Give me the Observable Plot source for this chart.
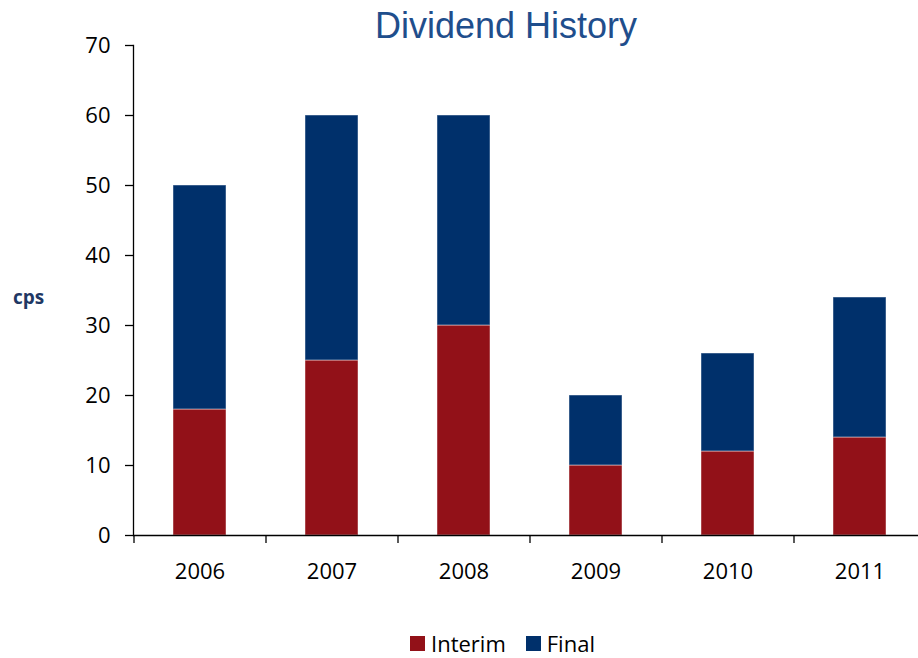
<!DOCTYPE html>
<html>
<head>
<meta charset="utf-8">
<script src="https://cdn.jsdelivr.net/npm/d3@7"></script>
<script src="https://cdn.jsdelivr.net/npm/@observablehq/plot@0.6"></script>
<style>
  html, body { margin: 0; padding: 0; background: #fff; }
  #wrap { position: relative; width: 918px; height: 658px; overflow: hidden; font-family: "Open Sans", sans-serif; }
  #title { position: absolute; top: 5px; left: 0; width: 1012px; text-align: center; font-family: "Liberation Sans", Arial, sans-serif; font-size: 36px; color: #1F4E8C; }
  #cps { position: absolute; left: 13px; top: 284px; font-family: "Open Sans", sans-serif; font-weight: bold; font-size: 19px; color: #1F3864; }
  #chart { position: absolute; left: 0; top: 0; }
  #legend { position: absolute; top: 628px; left: 410px; display: flex; align-items: center; font-size: 22px; color: #000; white-space: nowrap; }
  .sw { display: inline-block; width: 15px; height: 15px; margin-right: 6px; }
</style>
</head>
<body>
<div id="wrap">
  <div id="chart"></div>
  <div id="title">Dividend History</div>
  <div id="cps">cps</div>
  <div id="legend"></div>
</div>
<script>
const years = ["2006", "2007", "2008", "2009", "2010", "2011"];
const interim = [18, 25, 30, 10, 12, 14];
const final = [32, 35, 30, 10, 14, 20];
const seriesNames = ["Interim", "Final"];
const seriesColors = ["#921118", "#00306B"];
const yTicks = [0, 10, 20, 30, 40, 50, 60, 70];

const data = [];
years.forEach((y, i) => {
  data.push({year: y, series: "Interim", value: interim[i]});
  data.push({year: y, series: "Final", value: final[i]});
});

const chart = Plot.plot({
  width: 918,
  height: 600,
  marginTop: 45,
  marginBottom: 65,
  marginLeft: 133,
  marginRight: 0,
  style: {fontFamily: "'Open Sans', sans-serif", fontSize: "22px", color: "#000", background: "transparent"},
  x: {domain: years, range: [133, 925], paddingInner: 0.6, paddingOuter: 0.3, align: 0.5, label: null},
  y: {domain: [0, 70], label: null},
  color: {domain: seriesNames, range: seriesColors},
  marks: [
    Plot.barY(data, {x: "year", y: "value", fill: "series", stroke: "#ffffff", strokeOpacity: 0.45, strokeWidth: 1}),
    Plot.axisY({ticks: yTicks, tickSize: 8, tickPadding: 15, tickFormat: d => d, stroke: "#000", strokeWidth: 1.3, fontSize: 22, label: null}),
    Plot.axisX({tickSize: 8, dx: -66, tickFormat: () => "", stroke: "#000", strokeWidth: 1.3, label: null}),
    Plot.axisX({tickSize: 0, tickPadding: 28, fontSize: 22, label: null}),
    Plot.frame({anchor: "left", stroke: "#000", strokeWidth: 1.3}),
    Plot.ruleY([0], {stroke: "#000", strokeWidth: 1.3})
  ]
});
document.getElementById("chart").appendChild(chart);

const legend = document.getElementById("legend");
seriesNames.forEach((name, i) => {
  const item = document.createElement("span");
  item.style.display = "inline-flex";
  item.style.alignItems = "center";
  item.style.marginRight = i === 0 ? "20px" : "0";
  const sw = document.createElement("span");
  sw.className = "sw";
  sw.style.background = seriesColors[i];
  const label = document.createElement("span");
  label.textContent = name;
  item.appendChild(sw);
  item.appendChild(label);
  legend.appendChild(item);
});
</script>
</body>
</html>
